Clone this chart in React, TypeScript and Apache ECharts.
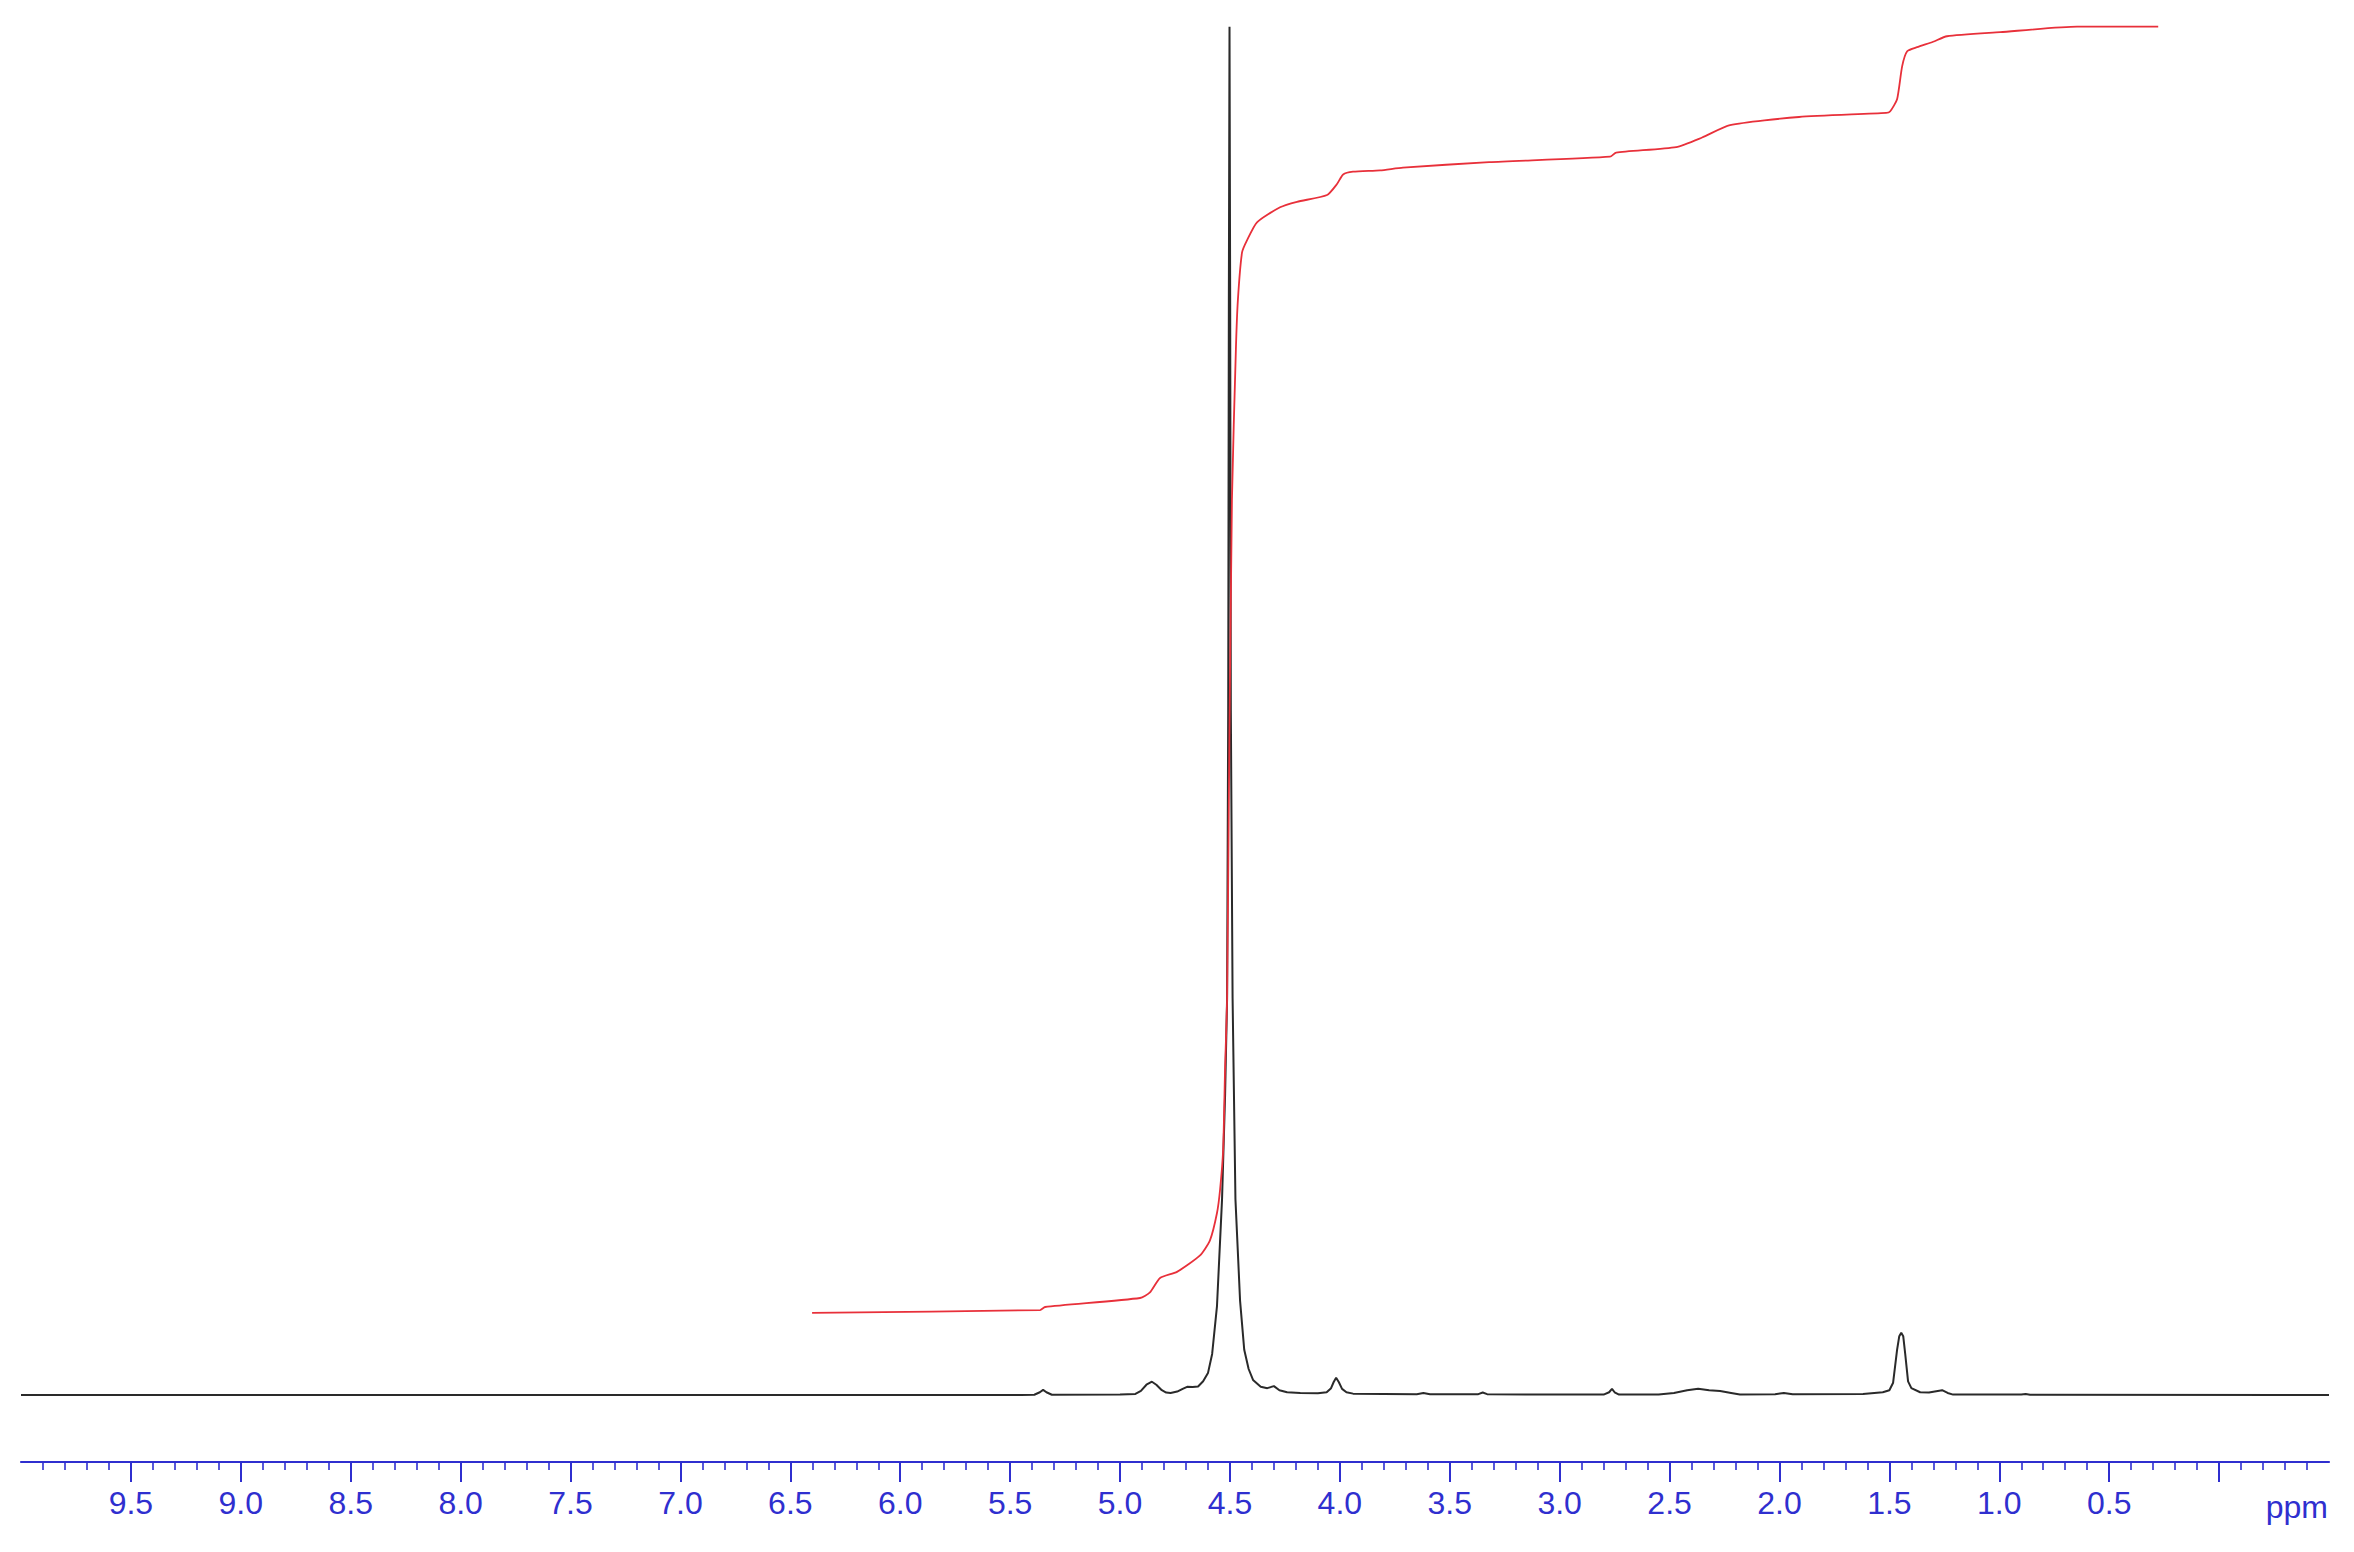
import React, { useEffect, useRef } from "react";
import * as echarts from "echarts";

// Chemical shift axis (ppm)
const axisMin = -0.5;
const axisMax = 10.0;
const tickLabels = [9.5, 9.0, 8.5, 8.0, 7.5, 7.0, 6.5, 6.0, 5.5, 5.0, 4.5, 4.0, 3.5, 3.0, 2.5, 2.0, 1.5, 1.0, 0.5];
const majorTicks = [9.5, 9.0, 8.5, 8.0, 7.5, 7.0, 6.5, 6.0, 5.5, 5.0, 4.5, 4.0, 3.5, 3.0, 2.5, 2.0, 1.5, 1.0, 0.5, 0.0];

// 1H NMR spectrum (relative intensity, tallest peak = 100)
const spectrumPpm = [
  10.0, 5.45, 5.39, 5.365, 5.35, 5.335, 5.31, 5.0, 4.93, 4.905, 4.88, 4.855, 4.835, 4.81, 4.79, 4.77,
  4.74, 4.715, 4.695, 4.67, 4.645, 4.622, 4.6, 4.581, 4.559, 4.536, 4.522, 4.513, 4.508, 4.505, 4.502,
  4.499, 4.496, 4.488, 4.475, 4.454, 4.435, 4.415, 4.395, 4.36, 4.33, 4.3, 4.275, 4.24, 4.18, 4.1,
  4.06, 4.04, 4.028, 4.017, 4.005, 3.99, 3.97, 3.94, 3.8, 3.65, 3.62, 3.59, 3.37, 3.35, 3.33, 3.0,
  2.8, 2.775, 2.762, 2.75, 2.73, 2.55, 2.48, 2.42, 2.37, 2.32, 2.27, 2.22, 2.18, 2.02, 1.98, 1.94,
  1.62, 1.53, 1.5, 1.483, 1.465, 1.455, 1.446, 1.437, 1.428, 1.415, 1.4, 1.36, 1.32, 1.28, 1.26,
  1.235, 1.21, 0.9, 0.88, 0.86, -0.5,
];
const spectrumIntensity = [
  0, 0, 0.02, 0.2, 0.37, 0.2, 0.02, 0.03, 0.08, 0.3, 0.75, 0.97, 0.75, 0.35, 0.18, 0.15,
  0.25, 0.45, 0.6, 0.58, 0.62, 1.0, 1.6, 3.0, 6.5, 14.3, 22, 29, 50, 80, 100,
  80, 50, 29, 14.3, 6.9, 3.3, 1.9, 1.1, 0.6, 0.5, 0.65, 0.35, 0.2, 0.15, 0.12,
  0.2, 0.5, 0.95, 1.26, 0.95, 0.45, 0.2, 0.1, 0.08, 0.06, 0.14, 0.05, 0.06, 0.18, 0.06, 0.03,
  0.03, 0.2, 0.45, 0.2, 0.03, 0.03, 0.15, 0.35, 0.45, 0.35, 0.3, 0.15, 0.03, 0.05, 0.15, 0.05,
  0.08, 0.2, 0.35, 0.9, 3.3, 4.3, 4.55, 4.3, 3.0, 1.0, 0.5, 0.2, 0.18, 0.3, 0.35,
  0.15, 0.03, 0.03, 0.08, 0.02, 0,
];

// Integral curve
const integralPpm = [
  6.401, 5.364, 5.341, 4.909, 4.864, 4.818, 4.741, 4.636, 4.591, 4.559, 4.545, 4.531, 4.522, 4.513,
  4.505, 4.491, 4.473, 4.464, 4.445, 4.422, 4.377, 4.272, 4.195, 4.058, 4.013, 3.985, 3.94, 3.817,
  3.713, 3.321, 2.771, 2.743, 2.47, 2.352, 2.225, 1.911, 1.515, 1.497, 1.465, 1.442, 1.419, 1.374,
  1.301, 1.238, 0.996, 0.646, 0.277,
];
const integralValue = [
  6.0, 6.21, 6.43, 7.09, 7.5, 8.55, 9.0, 10.2, 11.3, 13.3, 15.0, 17.9, 24.0, 28.9,
  43.5, 65.4, 76.4, 80.0, 83.5, 84.4, 85.7, 86.8, 87.2, 87.7, 88.5, 89.2, 89.4, 89.5,
  89.7, 90.1, 90.5, 90.8, 91.2, 91.9, 92.8, 93.4, 93.7, 93.8, 94.7, 97.1, 98.2, 98.5,
  98.9, 99.3, 99.6, 100.0, 100.0,
];

const BLUE = "#2f2fcf";
const FONT = '"Liberation Sans", Arial, Helvetica, sans-serif';

export default function App() {
  const ref = useRef<HTMLDivElement>(null);

  useEffect(() => {
    if (!ref.current) return;
    const chart = echarts.init(ref.current, undefined, { renderer: "svg" });
    const spectrum = spectrumPpm.map((p, i) => [p, spectrumIntensity[i]]);
    const integral = integralPpm.map((p, i) => [p, integralValue[i]]);

    chart.setOption({
      animation: false,
      backgroundColor: "#ffffff",
      grid: { left: 21, right: 25, top: 13, bottom: 157, containLabel: false },
      xAxis: {
        type: "value",
        inverse: true,
        min: axisMin,
        max: axisMax,
        interval: 0.5,
        position: "bottom",
        offset: 67,
        axisLine: { show: true, onZero: false, lineStyle: { color: BLUE, width: 2.2 } },
        axisTick: {
          show: true,
          inside: false,
          length: 20,
          customValues: majorTicks,
          lineStyle: { color: BLUE, width: 2 },
        },
        minorTick: { show: true, splitNumber: 5, length: 8, lineStyle: { color: BLUE, width: 1.6 } },
        axisLabel: {
          show: true,
          customValues: tickLabels,
          margin: 25,
          color: BLUE,
          fontSize: 32,
          fontFamily: FONT,
          formatter: (v: number) => v.toFixed(1),
        },
        splitLine: { show: false },
        minorSplitLine: { show: false },
      },
      yAxis: {
        type: "value",
        min: 0,
        max: 101,
        show: false,
        splitLine: { show: false },
      },
      graphic: [
        {
          type: "text",
          x: 2328,
          y: 1507,
          style: {
            text: "ppm",
            fill: BLUE,
            font: `32px ${FONT}`,
            textAlign: "right",
            textVerticalAlign: "middle",
          },
        },
      ],
      series: [
        {
          type: "line",
          name: "spectrum",
          data: spectrum,
          showSymbol: false,
          symbol: "none",
          clip: false,
          lineStyle: { color: "#2a2a2a", width: 2 },
          z: 2,
        },
        {
          type: "line",
          name: "integral",
          data: integral,
          showSymbol: false,
          symbol: "none",
          clip: false,
          smooth: 0.2,
          lineStyle: { color: "#e8303a", width: 1.8 },
          z: 3,
        },
      ],
    });

    return () => chart.dispose();
  }, []);

  return (
    <div
      ref={ref}
      style={{ position: "absolute", left: 0, top: 0, width: 2354, height: 1552, background: "#fff" }}
    />
  );
}
